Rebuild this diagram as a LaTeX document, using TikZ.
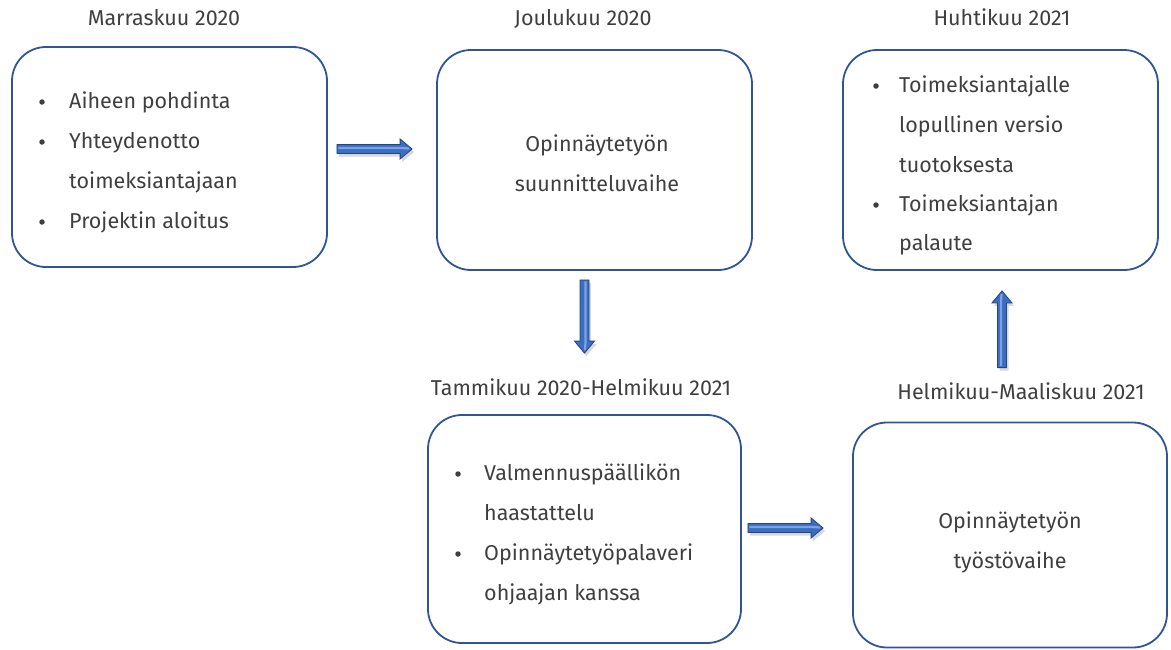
\documentclass[tikz,border=0pt]{standalone}
\usepackage{fontspec}
\setmainfont{Fira Sans}
\usetikzlibrary{calc}

\definecolor{boxblue}{HTML}{2F5597}
\definecolor{txt}{HTML}{3F3F3F}
\definecolor{arrowfill}{HTML}{3D6DBE}
\definecolor{arrowedge}{HTML}{234684}
\definecolor{arrowlight}{HTML}{7AA3E6}

\tikzset{
  card/.style={draw=boxblue, line width=1.8pt, rounded corners=34pt, inner sep=0pt},
  textfont/.style={font=\fontsize{21.5}{24}\selectfont, text=txt, inner sep=0pt,
                   text height=15pt, text depth=1.5pt},
  title/.style={textfont},
  line/.style={textfont, anchor=west},
  centerline/.style={textfont},
  dot/.style={circle, fill=txt, inner sep=0pt, minimum size=5.5pt},
}

% Bevelled block arrow from #1 to #2
\newcommand\blockarrow[2]{%
  \fill[black!35, opacity=0.45]
    let \p1=(#1), \p2=(#2), \n1={atan2(\y2-\y1,\x2-\x1)}, \n2={veclen(\x2-\x1,\y2-\y1)} in
    [shift={(\p1)}, shift={(2pt,-3pt)}, rotate=\n1]
    (0pt,-4.5pt) -- ({\n2-12pt},-4.5pt) -- ({\n2-12pt},-10pt) -- (\n2,0pt)
    -- ({\n2-12pt},10pt) -- ({\n2-12pt},4.5pt) -- (0pt,4.5pt) -- cycle;
  \filldraw[fill=arrowfill, draw=arrowedge, line width=0.8pt, line join=miter]
    let \p1=(#1), \p2=(#2), \n1={atan2(\y2-\y1,\x2-\x1)}, \n2={veclen(\x2-\x1,\y2-\y1)} in
    [shift={(\p1)}, rotate=\n1]
    (0pt,-4.5pt) -- ({\n2-12pt},-4.5pt) -- ({\n2-12pt},-10pt) -- (\n2,0pt)
    -- ({\n2-12pt},10pt) -- ({\n2-12pt},4.5pt) -- (0pt,4.5pt) -- cycle;
  \draw[arrowlight, line width=2.2pt]
    let \p1=(#1), \p2=(#2), \n1={atan2(\y2-\y1,\x2-\x1)}, \n2={veclen(\x2-\x1,\y2-\y1)} in
    [shift={(\p1)}, rotate=\n1]
    (1.5pt,1pt) -- ({\n2-11pt},1pt) -- ({\n2-3pt},0.5pt);
}

\begin{document}
\begin{tikzpicture}[x=1pt,y=-1pt]
  \useasboundingbox (0,0) rectangle (1171,649);

  % stage boxes
  \node[card, minimum width=315pt, minimum height=220pt] (b1) at (169.5,157) {};
  \node[card, minimum width=315pt, minimum height=220pt] (b2) at (594.5,160) {};
  \node[card, minimum width=315pt, minimum height=220pt] (b3) at (1000.5,160) {};
  \node[card, minimum width=313pt, minimum height=228pt] (b4) at (584.5,529) {};
  \node[card, minimum width=314pt, minimum height=225pt] (b5) at (1010,535) {};

  % period headings
  \node[title] (t1) at (164,19) {Marraskuu 2020};
  \node[title] (t2) at (583,19) {Joulukuu 2020};
  \node[title] (t3) at (1002,19) {Huhtikuu 2021};
  \node[title] (t4) at (581,389) {Tammikuu 2020-Helmikuu 2021};
  \node[title] (t5) at (1021,393) {Helmikuu-Maaliskuu 2021};

  % box 1
  \node[dot] (d11) at (42,102) {};
  \node[line] (l11) at (69,102) {Aiheen pohdinta};
  \node[dot] (d12) at (42,142) {};
  \node[line] (l12) at (69,142) {Yhteydenotto};
  \node[line] (l13) at (69,182) {toimeksiantajaan};
  \node[dot] (d14) at (42,222) {};
  \node[line] (l14) at (69,222) {Projektin aloitus};

  % box 2
  \node[centerline] (c21) at (597,145) {Opinnäytetyön};
  \node[centerline] (c22) at (597,185) {suunnitteluvaihe};

  % box 3
  \node[dot] (d31) at (876,86) {};
  \node[line] (l31) at (899,86) {Toimeksiantajalle};
  \node[line] (l32) at (899,126) {lopullinen versio};
  \node[line] (l33) at (899,166) {tuotoksesta};
  \node[dot] (d34) at (876,205) {};
  \node[line] (l34) at (899,205) {Toimeksiantajan};
  \node[line] (l35) at (899,244) {palaute};

  % box 4
  \node[dot] (d41) at (458,474) {};
  \node[line] (l41) at (484,474) {Valmennuspäällikön};
  \node[line] (l42) at (484,514) {haastattelu};
  \node[dot] (d43) at (458,554) {};
  \node[line] (l43) at (484,554) {Opinnäytetyöpalaveri};
  \node[line] (l44) at (484,594) {ohjaajan kanssa};

  % box 5
  \node[centerline] (c51) at (1010,522) {Opinnäytetyön};
  \node[centerline] (c52) at (1010,562) {työstövaihe};

  % arrow end points, placed off the box borders
  \coordinate (a1s) at ($(b1.east)+(9,-8)$);
  \coordinate (a1e) at ($(b2.west)+(-24,-11)$);
  \coordinate (a2s) at ($(b2.south)+(-10,9)$);
  \coordinate (a2e) at ($(b4.north)+(0,-61)$);
  \coordinate (a3s) at ($(b5.north)+(-8,-54)$);
  \coordinate (a3e) at ($(b3.south)+(1.5,20)$);
  \coordinate (a4s) at ($(b4.east)+(6,-1)$);
  \coordinate (a4e) at ($(b5.west)+(-29,-7)$);

  \blockarrow{a1s}{a1e}
  \blockarrow{a2s}{a2e}
  \blockarrow{a3s}{a3e}
  \blockarrow{a4s}{a4e}
\end{tikzpicture}
\end{document}
